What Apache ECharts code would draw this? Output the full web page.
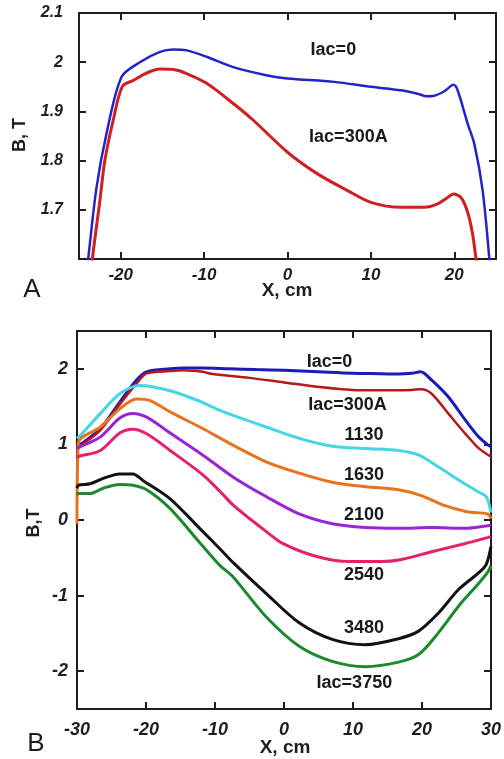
<!DOCTYPE html>
<html>
<head>
<meta charset="utf-8">
<script src="https://cdn.jsdelivr.net/npm/echarts@6/dist/echarts.min.js"></script>
<style>
html,body{margin:0;padding:0;background:#fff;}
#c{width:504px;height:759px;}
</style>
</head>
<body>
<div id="c"></div>
<script>
// ---------- Panel A data ----------
var aIac0X = [-24.3, -23.9, -22.9, -21.7, -19.9, -17.7, -15.3, -13.7, -12.1, -9.7, -6.5, -2.4, 0, 5.6, 10, 13.6, 15.6, 16.6, 17.6, 18.8, 19.9, 20.4, 21.6, 22.4, 23.4, 24.2, 24.6];
var aIac0Y = [1.54, 1.6, 1.745, 1.855, 1.97, 2.0, 2.021, 2.026, 2.024, 2.011, 1.99, 1.973, 1.967, 1.96, 1.95, 1.943, 1.936, 1.931, 1.932, 1.941, 1.954, 1.943, 1.875, 1.834, 1.739, 1.6, 1.5];
var aIac300X = [-23.8, -23.4, -22.5, -21.9, -20.9, -19.8, -18.5, -16.9, -15.3, -13.7, -12.1, -9.7, -6.5, -4.1, 0, 3.6, 7.2, 10, 13.6, 16.4, 18.0, 19.2, 19.9, 20.8, 21.6, 22.2, 22.6, 22.9];
var aIac300Y = [1.53, 1.6, 1.718, 1.8, 1.882, 1.951, 1.963, 1.978, 1.986, 1.985, 1.977, 1.957, 1.916, 1.882, 1.817, 1.773, 1.739, 1.715, 1.705, 1.705, 1.712, 1.725, 1.732, 1.725, 1.695, 1.65, 1.6, 1.55];
var aXTicks = [-20, -10, 0, 10, 20];
var aYTicks = [1.7, 1.8, 1.9, 2.0];
var aYLabels = [1.7, 1.8, 1.9, 2, 2.1];
var aNames = ['Iac=0', 'Iac=300A'];
var aNameX = [5.5, 7.3];
var aNameY = [2.025, 1.847];

// ---------- Panel B data ----------
var bIac0X = [-30, -29.5, -26.6, -23.8, -21.4, -19.9, -16.5, -14.6, -11.8, -8, -4, 0, 5, 9.9, 14, 16.6, 18.5, 19.8, 21.4, 23.8, 26.3, 28.2, 29.6, 30];
var bIac0Y = [0.98, 1.0, 1.21, 1.56, 1.85, 1.96, 2.0, 2.01, 2.01, 2.0, 1.99, 1.98, 1.96, 1.94, 1.935, 1.93, 1.94, 1.96, 1.85, 1.63, 1.32, 1.10, 0.99, 0.97];
var bIac300X = [-30, -29.5, -26.6, -23.8, -21.4, -19.9, -16.5, -14.6, -11.8, -10.3, -5, 0, 5.1, 9.9, 14, 16.6, 18.5, 19.9, 21.4, 23.8, 26.3, 28.2, 29.6, 30];
var bIac300Y = [0.95, 0.98, 1.19, 1.53, 1.8, 1.94, 1.97, 1.98, 1.96, 1.93, 1.88, 1.82, 1.76, 1.72, 1.715, 1.715, 1.72, 1.73, 1.67, 1.41, 1.14, 0.95, 0.86, 0.84];
var bIac1130X = [-30, -29.5, -26.6, -23.8, -20.9, -16.5, -12.2, -9.3, -7.4, -2.6, 2.2, 7.0, 11.8, 16.6, 19.5, 22.4, 25.3, 28.2, 29.3, 30];
var bIac1130Y = [1.08, 1.12, 1.41, 1.67, 1.78, 1.71, 1.57, 1.45, 1.385, 1.23, 1.08, 0.976, 0.946, 0.92, 0.86, 0.70, 0.53, 0.37, 0.31, 0.1];
var bIac1630X = [-30, -29.8, -26.6, -23.8, -21.4, -19.4, -16.5, -11.8, -7.4, -2.6, 2.2, 7.0, 11.8, 16.6, 20, 23, 26.5, 29.5, 30];
var bIac1630Y = [-0.05, 1.02, 1.23, 1.47, 1.6, 1.58, 1.43, 1.21, 0.99, 0.77, 0.62, 0.5, 0.44, 0.40, 0.32, 0.2, 0.11, 0.08, 0.02];
var bIac2100X = [-30, -29.5, -26.6, -23.8, -21.9, -19.9, -16.5, -11.8, -7.4, -2.6, 2.2, 7, 11.8, 16.6, 21.4, 26.3, 29.3, 30];
var bIac2100Y = [0.95, 0.97, 1.10, 1.35, 1.41, 1.36, 1.15, 0.86, 0.57, 0.31, 0.08, -0.05, -0.1, -0.11, -0.1, -0.11, -0.08, -0.07];
var bIac2540X = [-30, -29.8, -26.6, -23.8, -21.9, -19.9, -16.5, -11.8, -9.3, -7.4, -5, -2.6, -0.2, 4.6, 9.4, 14.2, 16.6, 21.4, 26.3, 29.6, 30];
var bIac2540Y = [0.82, 0.84, 0.92, 1.15, 1.20, 1.14, 0.92, 0.6, 0.38, 0.2, 0.02, -0.15, -0.31, -0.48, -0.55, -0.55, -0.53, -0.42, -0.31, -0.23, -0.22];
var bIac3480X = [-30, -29.8, -28.1, -26.2, -23.8, -21.9, -20.4, -16.5, -11.8, -9.3, -7.4, -2.6, 2.2, 7.0, 11.8, 16.6, 19.5, 22.4, 25.3, 28.2, 29.3, 30];
var bIac3480Y = [0.42, 0.46, 0.48, 0.55, 0.61, 0.61, 0.52, 0.28, -0.15, -0.38, -0.56, -0.97, -1.36, -1.58, -1.65, -1.57, -1.47, -1.23, -0.92, -0.70, -0.59, -0.35];
var bIac3750X = [-30, -29.8, -28.1, -26.2, -23.8, -21.9, -19.9, -16.5, -12.2, -9.3, -7.4, -2.6, 2.2, 7.0, 11.8, 16.6, 19.5, 22.4, 25.3, 28.2, 29.6, 30];
var bIac3750Y = [0.33, 0.35, 0.35, 0.42, 0.47, 0.46, 0.40, 0.15, -0.3, -0.6, -0.75, -1.28, -1.67, -1.87, -1.94, -1.88, -1.78, -1.49, -1.14, -0.84, -0.68, -0.6];
var bXTicks = [-30, -20, -10, 0, 10, 20, 30];
var bYTicks = [-2, -1, 0, 1, 2];
var bNames = ['Iac=0', 'Iac=300A', '1130', '1630', '2100', '2540', '3480', 'Iac=3750'];
var bNameX = [6.6, 9.2, 11.6, 11.6, 11.6, 11.6, 11.6, 10.2];
var bNameY = [2.09, 1.52, 1.12, 0.59, 0.07, -0.73, -1.43, -2.15];

function zip(xs, ys) { return xs.map(function (x, i) { return [x, ys[i]]; }); }
function names(n, xs, ys) { return n.map(function (t, i) { return { name: t, value: [xs[i], ys[i]] }; }); }

var FONT = '"Liberation Sans", Arial, sans-serif';
var INK = '#1e1e1e';

function xAx(grid, min, max, ticks, pos, showLabel, size, margin) {
  return {
    type: 'value', gridIndex: grid, min: min, max: max, position: pos,
    axisLine: { show: true, onZero: false, lineStyle: { color: INK, width: 2 } },
    axisTick: { show: true, inside: true, length: 7, customValues: ticks, lineStyle: { color: INK, width: 2 } },
    axisLabel: { show: showLabel, customValues: ticks, fontFamily: FONT, fontStyle: 'italic', fontWeight: 'bold', fontSize: size, color: INK, margin: margin },
    splitLine: { show: false }
  };
}
function yAx(grid, min, max, ticks, labels, pos, showLabel, size, margin) {
  return {
    type: 'value', gridIndex: grid, min: min, max: max, position: pos,
    axisLine: { show: true, onZero: false, lineStyle: { color: INK, width: 2 } },
    axisTick: { show: true, inside: true, length: 7, customValues: ticks, lineStyle: { color: INK, width: 2 } },
    axisLabel: { show: showLabel, customValues: labels, fontFamily: FONT, fontStyle: 'italic', fontWeight: 'bold', fontSize: size, color: INK, margin: margin },
    splitLine: { show: false }
  };
}
function line(data, color, xi, yi, w) {
  return {
    type: 'line', data: data, xAxisIndex: xi, yAxisIndex: yi, showSymbol: false, symbol: 'none',
    smooth: 0.3, clip: true, silent: true, animation: false,
    lineStyle: { color: color, width: w }
  };
}
function labelSeries(data, xi, yi) {
  return {
    type: 'scatter', data: data, xAxisIndex: xi, yAxisIndex: yi, symbolSize: 1, silent: true, animation: false,
    itemStyle: { color: 'rgba(0,0,0,0)', opacity: 1 },
    label: { show: true, position: 'inside', formatter: '{b}', fontFamily: FONT, fontWeight: 'bold', fontSize: 18, color: '#1a1a1a', opacity: 1, textBorderWidth: 0 }
  };
}

var chart = echarts.init(document.getElementById('c'), null, { renderer: 'canvas' });
chart.setOption({
  backgroundColor: '#ffffff',
  animation: false,
  grid: [
    { left: 79, top: 13, width: 417, height: 246, containLabel: false },
    { left: 77, top: 331, width: 416, height: 378, containLabel: false }
  ],
  xAxis: [
    xAx(0, -25, 25, aXTicks, 'bottom', true, 17, 8),
    xAx(0, -25, 25, aXTicks, 'top', false, 17, 8),
    xAx(1, -30, 30, bXTicks, 'bottom', true, 18, 12),
    xAx(1, -30, 30, bXTicks, 'top', false, 18, 12)
  ],
  yAxis: [
    yAx(0, 1.6, 2.1, aYTicks, aYLabels, 'left', true, 16, 16),
    yAx(0, 1.6, 2.1, aYTicks, aYLabels, 'right', false, 16, 16),
    yAx(1, -2.5, 2.5, bYTicks, bYTicks, 'left', true, 18, 9),
    yAx(1, -2.5, 2.5, bYTicks, bYTicks, 'right', false, 18, 9)
  ],
  series: [
    line(zip(aIac0X, aIac0Y), '#2323c8', 0, 0, 2.5),
    line(zip(aIac300X, aIac300Y), '#cf1f1f', 0, 0, 3),
    labelSeries(names(aNames, aNameX, aNameY), 0, 0),
    line(zip(bIac0X, bIac0Y), '#1a1ab8', 2, 2, 3),
    line(zip(bIac300X, bIac300Y), '#b81818', 2, 2, 2.5),
    line(zip(bIac1130X, bIac1130Y), '#44d6e2', 2, 2, 3),
    line(zip(bIac1630X, bIac1630Y), '#e8731f', 2, 2, 3),
    line(zip(bIac2100X, bIac2100Y), '#9824d4', 2, 2, 3),
    line(zip(bIac2540X, bIac2540Y), '#e6206c', 2, 2, 3),
    line(zip(bIac3480X, bIac3480Y), '#111111', 2, 2, 3),
    line(zip(bIac3750X, bIac3750Y), '#1c8a2c', 2, 2, 3),
    labelSeries(names(bNames, bNameX, bNameY), 2, 2)
  ],
  graphic: [
    { type: 'text', x: 20, y: 135, rotation: Math.PI / 2, style: { text: 'B, T', font: 'bold 18px ' + FONT, fill: INK, align: 'center', verticalAlign: 'middle' } },
    { type: 'text', x: 287, y: 291, style: { text: 'X, cm', font: 'bold 19px ' + FONT, fill: INK, align: 'center', verticalAlign: 'middle' } },
    { type: 'text', x: 32, y: 290, style: { text: 'A', font: '26px ' + FONT, fill: INK, align: 'center', verticalAlign: 'middle' } },
    { type: 'text', x: 34, y: 523, rotation: Math.PI / 2, style: { text: 'B,T', font: 'bold 18px ' + FONT, fill: INK, align: 'center', verticalAlign: 'middle' } },
    { type: 'text', x: 285, y: 748, style: { text: 'X, cm', font: 'bold 19px ' + FONT, fill: INK, align: 'center', verticalAlign: 'middle' } },
    { type: 'text', x: 36, y: 744, style: { text: 'B', font: '26px ' + FONT, fill: INK, align: 'center', verticalAlign: 'middle' } }
  ]
});
</script>
</body>
</html>
